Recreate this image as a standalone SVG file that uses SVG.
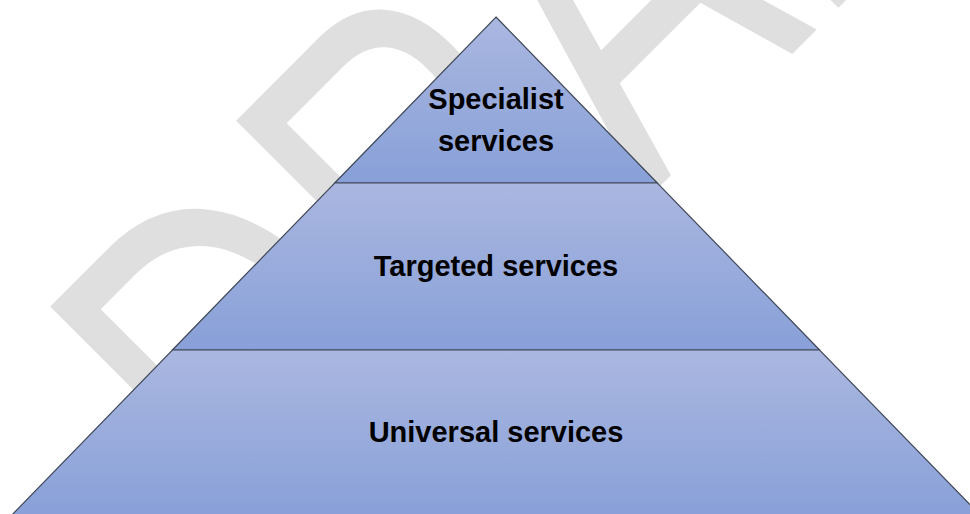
<svg xmlns="http://www.w3.org/2000/svg" width="970" height="514" viewBox="0 0 970 514">
  <defs>
    <linearGradient id="tierFill" x1="0" y1="0" x2="0" y2="1">
      <stop offset="0" stop-color="#aab7e0"/>
      <stop offset="1" stop-color="#88a0d8"/>
    </linearGradient>
    <style>
      .tier { fill: url(#tierFill); stroke: #404858; stroke-width: 1.2; stroke-linejoin: miter; }
      .label { font-family: "Liberation Sans", Arial, sans-serif; font-weight: bold; font-size: 29px; fill: #000; text-anchor: middle; }
      .watermark { font-family: "Liberation Sans", Arial, sans-serif; font-size: 364px; fill: #dfdfdf; font-kerning: none; }
    </style>
  </defs>

  <rect width="970" height="514" fill="#ffffff"/>

  <!-- diagonal watermark behind the pyramid, stretched tall -->
  <g id="watermark">
    <text class="watermark" transform="translate(273.8,572.4) rotate(-45) scale(1,1.382)">DRAFT</text>
  </g>

  <!-- pyramid tiers, top to bottom -->
  <g id="tier-specialist">
    <polygon class="tier" points="496,17 657.3,183 334.7,183"/>
    <text class="label" x="496" y="109">Specialist</text>
    <text class="label" x="496" y="150.5">services</text>
  </g>

  <g id="tier-targeted">
    <polygon class="tier" points="334.7,183 657.3,183 819.6,350 172.4,350"/>
    <text class="label" x="496" y="276">Targeted services</text>
  </g>

  <g id="tier-universal">
    <polygon class="tier" points="172.4,350 819.6,350 984,519 8,519"/>
    <text class="label" x="496" y="442">Universal services</text>
  </g>
</svg>
